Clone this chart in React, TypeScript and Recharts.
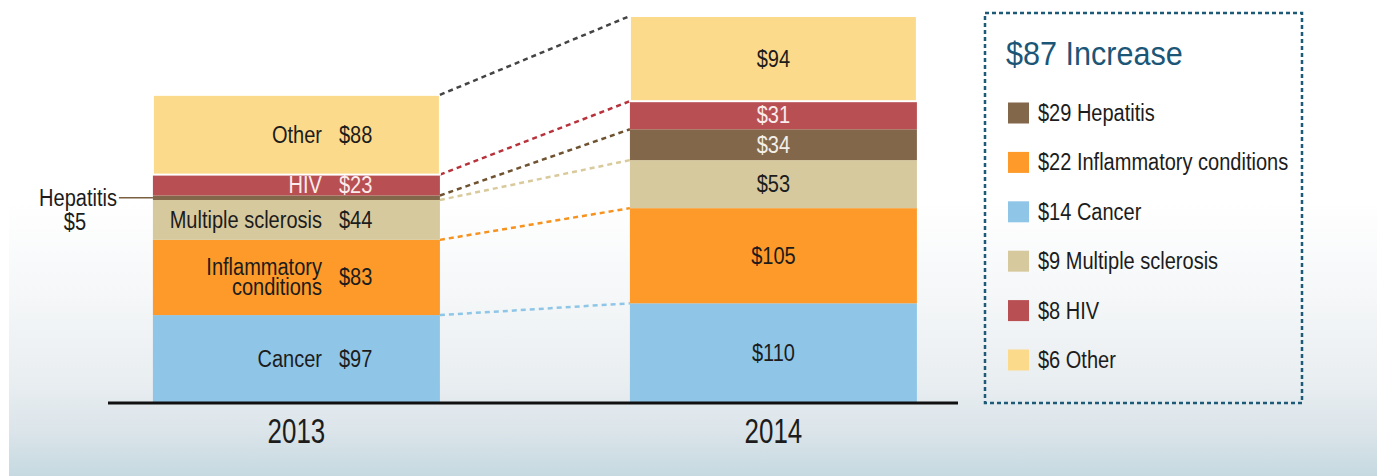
import React from 'react';
import { BarChart, Bar, XAxis, YAxis } from 'recharts';

// ---- data ----
const years = ['2013', '2014'];
const yearIndex = [0, 1];
const cancer = [97, 110];
const inflammatory = [83, 105];
const multipleSclerosis = [44, 53];
const hepatitis = [5, 34];
const hiv = [23, 31];
const other = [88, 94];

const increaseNames = ['Hepatitis', 'Inflammatory conditions', 'Cancer', 'Multiple sclerosis', 'HIV', 'Other'];
const increaseValues = [29, 22, 14, 9, 8, 6];
const totalIncrease = 87;

const SANS = '"Liberation Sans", Arial, Helvetica, sans-serif';
const DARK = '#1c1c1c';
const SX = 0.87;

type Series = {
  key: string;
  name: string;
  lines: string[];
  values: number[];
  fill: string;
  line: string;
  text: string;
  stroke?: string;
  outside?: boolean;
};

const series: Series[] = [
  { key: 'cancer', name: 'Cancer', lines: ['Cancer'], values: cancer, fill: '#8fc6e7', line: '#8fc6e7', text: DARK },
  { key: 'inflammatory', name: 'Inflammatory conditions', lines: ['Inflammatory', 'conditions'], values: inflammatory, fill: '#fd9a2a', line: '#f7921e', text: DARK },
  { key: 'ms', name: 'Multiple sclerosis', lines: ['Multiple sclerosis'], values: multipleSclerosis, fill: '#d7c99e', line: '#d9ca9c', text: DARK },
  { key: 'hepatitis', name: 'Hepatitis', lines: ['Hepatitis'], values: hepatitis, fill: '#83674a', line: '#6f5330', text: '#f4efe8', outside: true },
  { key: 'hiv', name: 'HIV', lines: ['HIV'], values: hiv, fill: '#b85053', line: '#b8323b', text: '#fbecec' },
  { key: 'other', name: 'Other', lines: ['Other'], values: other, fill: '#fcda8b', line: '#444444', text: DARK, stroke: '#ffffff' },
];

const legendColors: Record<string, string> = {};
series.forEach((s) => (legendColors[s.name] = s.fill));

const data = yearIndex.map((i) => {
  const row: Record<string, number | string> = { idx: i, year: years[i] };
  series.forEach((s) => (row[s.key] = s.values[i]));
  return row;
});

const CText = (p: {
  x: number;
  y: number;
  anchor?: 'start' | 'middle' | 'end';
  size?: number;
  sx?: number;
  fill?: string;
  children: React.ReactNode;
}) => (
  <text
    transform={`translate(${p.x},${p.y}) scale(${p.sx ?? SX},1)`}
    textAnchor={p.anchor ?? 'start'}
    fontFamily={SANS}
    fontSize={p.size ?? 23}
    fill={p.fill ?? DARK}
  >
    {p.children}
  </text>
);

const edges: Record<string, { x: number; y: number }> = {};

function makeShape(s: Series) {
  return (props: any) => {
    const { x, y, width, height } = props;
    const i: number = props.payload && props.payload.idx !== undefined ? props.payload.idx : props.index;
    const value = s.values[i];
    let connector: React.ReactNode = null;
    if (i === 0) {
      edges[s.key] = { x: x + width, y };
    } else if (edges[s.key]) {
      const e = edges[s.key];
      connector = (
        <line x1={e.x} y1={e.y} x2={x} y2={y} stroke={s.line} strokeWidth={2.5} strokeDasharray="5 4" />
      );
    }
    const cy = y + height / 2;
    let labels: React.ReactNode = null;
    if (i === 0) {
      if (s.outside) {
        labels = (
          <g>
            <line x1={x - 34} y1={cy} x2={x} y2={cy} stroke="#7a5f40" strokeWidth={1.5} />
            <CText x={x - 36} y={cy + 8} anchor="end">{s.name}</CText>
            <CText x={x - 78} y={cy + 32} anchor="middle">{`$${value}`}</CText>
          </g>
        );
      } else {
        const n = s.lines.length;
        labels = (
          <g>
            {s.lines.map((ln, k) => (
              <CText key={k} x={x + width * 0.589} y={cy + 8 + (k - (n - 1) / 2) * 20} anchor="end" fill={s.text}>
                {ln}
              </CText>
            ))}
            <CText x={x + width * 0.648} y={cy + 8} fill={s.text}>{`$${value}`}</CText>
          </g>
        );
      }
    } else {
      labels = (
        <CText x={x + width / 2} y={cy + 8} anchor="middle" fill={s.text}>
          {`$${value}`}
        </CText>
      );
    }
    return (
      <g>
        <rect
          x={x}
          y={y}
          width={width}
          height={height}
          fill={s.fill}
          stroke={s.stroke || 'none'}
          strokeWidth={s.stroke ? 2 : 0}
        />
        {connector}
        {labels}
      </g>
    );
  };
}

const YearTick = (props: any) => {
  const { x, y, payload } = props;
  return (
    <CText x={x} y={y + 40} anchor="middle" size={36} sx={0.72}>
      {years[payload.value]}
    </CText>
  );
};

export default function App() {
  const rowCenters = increaseNames.map((_, k) => 113 + k * 49.4);
  return (
    <div style={{ position: 'absolute', left: 0, top: 0, width: 1377, height: 476, background: '#ffffff', overflow: 'hidden' }}>
      <div
        style={{
          position: 'absolute',
          left: 9,
          top: 0,
          right: 0,
          bottom: 0,
          background:
            'linear-gradient(to bottom, #ffffff 0%, #ffffff 42%, #f5f7f8 62%, #e9eef1 80%, #dce5ea 90%, #c6d9e1 100%)',
        }}
      />
      <div style={{ position: 'absolute', left: 0, top: 0 }}>
        <BarChart
          width={1000}
          height={476}
          data={data}
          barSize={287}
          margin={{ top: 16, right: 42, left: 108, bottom: 13 }}
        >
          <XAxis
            type="number"
            dataKey="idx"
            domain={[-0.395, 1.387]}
            ticks={[0, 1]}
            axisLine={{ stroke: '#111111', strokeWidth: 3 }}
            tickLine={false}
            tickSize={0}
            tickMargin={0}
            height={60}
            tick={<YearTick />}
            interval={0}
          />
          <YAxis hide domain={[0, 'dataMax']} />
          {series.map((s) => (
            <Bar
              key={s.key}
              dataKey={s.key}
              name={s.name}
              stackId="a"
              fill={s.fill}
              isAnimationActive={false}
              shape={makeShape(s)}
            />
          ))}
        </BarChart>
      </div>
      <svg width={1377} height={476} style={{ position: 'absolute', left: 0, top: 0, pointerEvents: 'none' }}>
        <rect
          x={985}
          y={13}
          width={317}
          height={390}
          fill="none"
          stroke="#1d5a78"
          strokeWidth={2.5}
          strokeDasharray="4 3"
        />
        <CText x={1006} y={65} size={34} sx={0.9} fill="#1b5677">
          {`$${totalIncrease} Increase`}
        </CText>
        {increaseNames.map((n, k) => (
          <g key={n}>
            <rect x={1008} y={rowCenters[k] - 10.5} width={21} height={21} fill={legendColors[n]} />
            <CText x={1038} y={rowCenters[k] + 8}>{`$${increaseValues[k]} ${n}`}</CText>
          </g>
        ))}
      </svg>
    </div>
  );
}
